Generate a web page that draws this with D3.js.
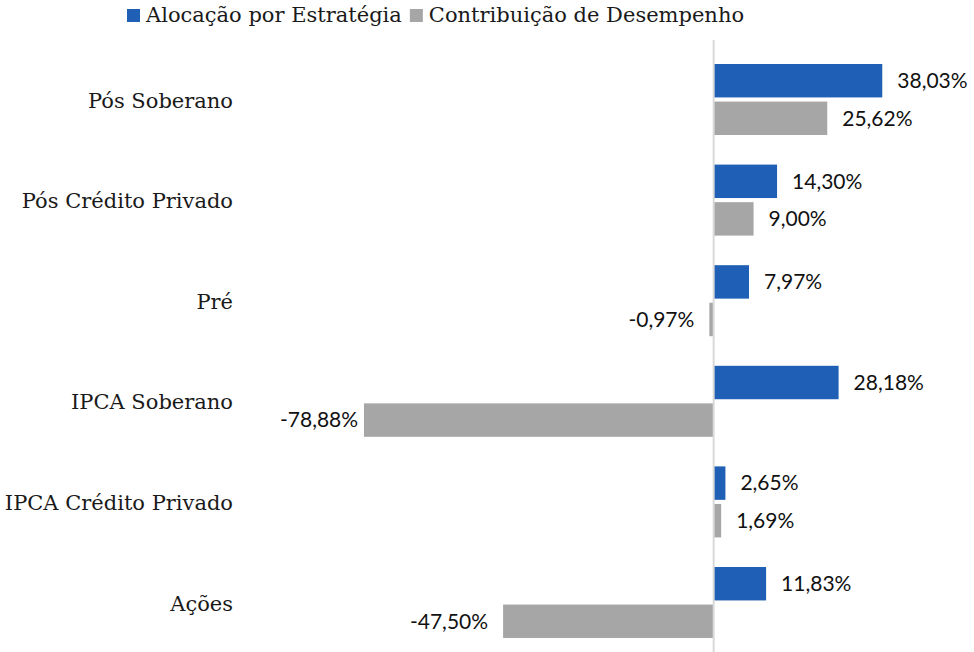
<!DOCTYPE html>
<html>
<head>
<meta charset="utf-8">
<script src="https://cdn.jsdelivr.net/npm/d3@7"></script>
<style>
  body { margin: 0; background: #fff; }
  .cat, .legend text { font-family: "DejaVu Serif", serif; font-size: 21px; fill: #1a1a1a; }
  .val { font-family: Lato, sans-serif; font-size: 21px; fill: #111; }
</style>
</head>
<body>
<svg id="chart" width="974" height="652"></svg>
<script>
  // chart data
  var categories = ['Pós Soberano', 'Pós Crédito Privado', 'Pré', 'IPCA Soberano', 'IPCA Crédito Privado', 'Ações'];
  var alocacao = [38.03, 14.30, 7.97, 28.18, 2.65, 11.83];
  var contribuicao = [25.62, 9.00, -0.97, -78.88, 1.69, -47.50];
  var seriesNames = ['Alocação por Estratégia', 'Contribuição de Desempenho'];
  var colors = ['#1f5fb5', '#a6a6a6'];

  var svg = d3.select('#chart');

  var x = d3.scaleLinear().domain([-80, 40]).range([359, 891]);
  var y = d3.scaleBand().domain(categories).range([50, 653.6]);
  var inner = d3.scaleBand().domain([0, 1]).range([14, 85]).paddingInner(0.11);

  var fmt = function(v) { return d3.format('.2f')(v).replace('.', ',').replace('\u2212', '-') + '%'; };

  var rows = categories.map(function(c, i) {
    return { cat: c, vals: [alocacao[i], contribuicao[i]] };
  });

  var g = svg.selectAll('g.row').data(rows).enter().append('g')
    .attr('class', 'row')
    .attr('transform', function(d) { return 'translate(0,' + y(d.cat) + ')'; });

  g.append('text')
    .attr('class', 'cat')
    .attr('x', 233)
    .attr('y', y.bandwidth() / 2)
    .attr('dy', '0.35em')
    .attr('text-anchor', 'end')
    .text(function(d) { return d.cat; });

  g.each(function(d) {
    var row = d3.select(this);
    d.vals.forEach(function(v, k) {
      row.append('rect')
        .attr('x', Math.min(x(0), x(v)))
        .attr('y', inner(k))
        .attr('width', Math.abs(x(v) - x(0)))
        .attr('height', inner.bandwidth())
        .attr('fill', colors[k]);
      var t = row.append('text')
        .attr('class', 'val')
        .attr('y', inner(k) + inner.bandwidth() / 2)
        .attr('dy', '0.35em')
        .text(fmt(v));
      if (v >= 0) {
        t.attr('x', x(v) + 15).attr('text-anchor', 'start');
      } else {
        // keep the label inside the plot area, like the original does
        var w = t.node().getComputedTextLength();
        var right = Math.max(x(v) - 15, 280 + w);
        t.attr('x', right).attr('text-anchor', 'end');
      }
    });
  });

  // zero line
  svg.append('line')
    .attr('x1', x(0)).attr('x2', x(0))
    .attr('y1', 40).attr('y2', 652)
    .attr('stroke', '#d9d9d9').attr('stroke-width', 2);

  // legend
  var legend = svg.append('g').attr('class', 'legend');
  var lx = 127;
  seriesNames.forEach(function(name, k) {
    legend.append('rect')
      .attr('x', lx).attr('y', 9)
      .attr('width', 13).attr('height', 13)
      .attr('fill', colors[k]);
    var t = legend.append('text')
      .attr('x', lx + 19).attr('y', 22)
      .text(name);
    lx += 19 + t.node().getComputedTextLength() + 8;
  });
</script>
</body>
</html>
